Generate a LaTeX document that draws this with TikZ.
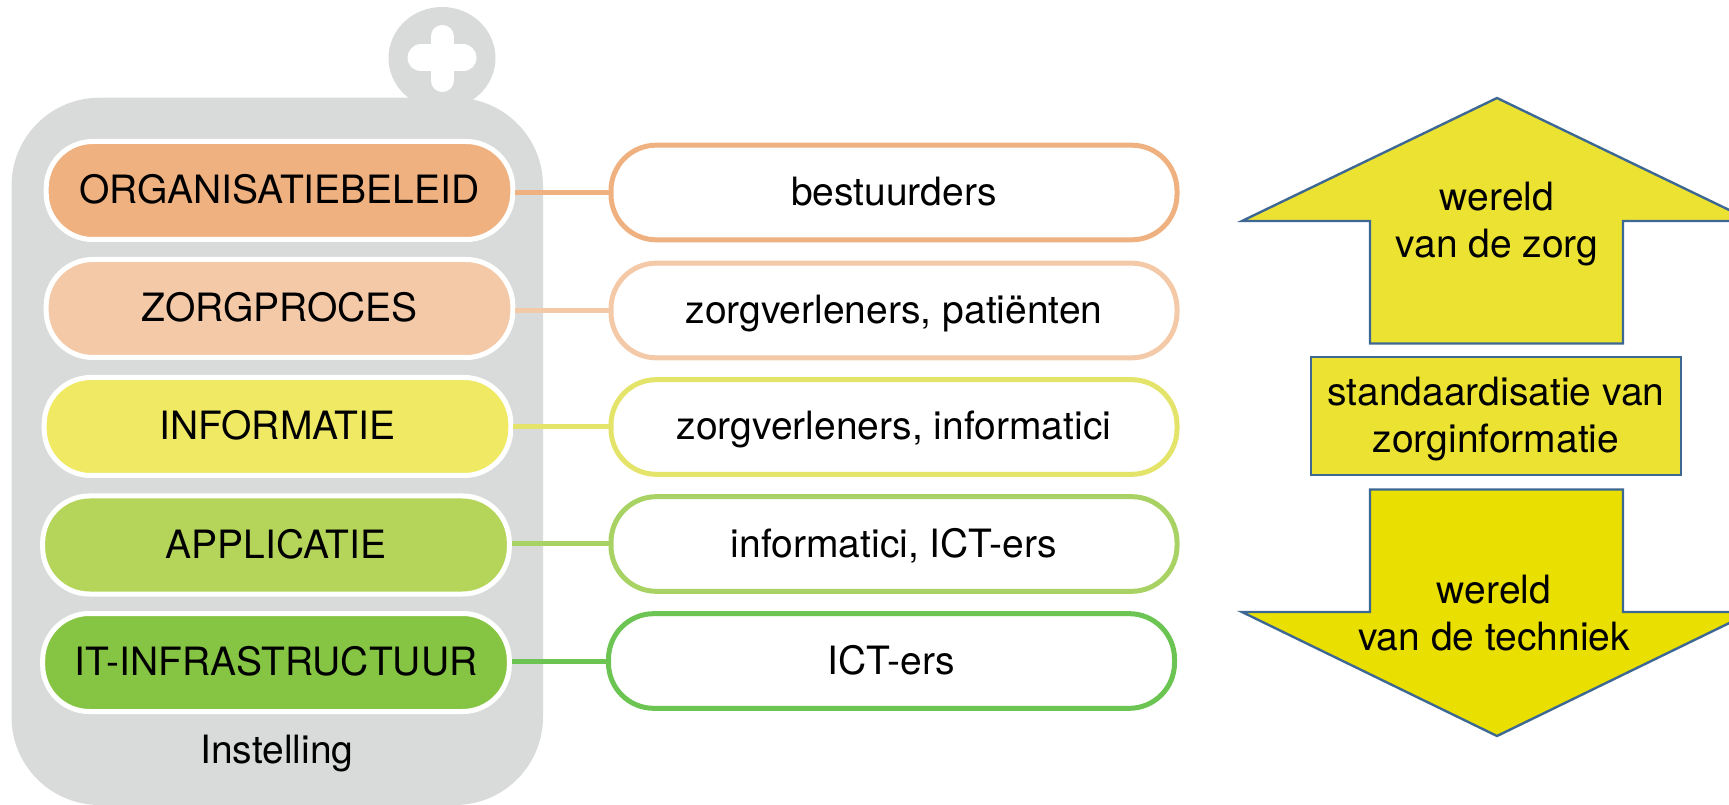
\documentclass[tikz,border=0pt]{standalone}
\usepackage{fontspec}
\setmainfont{TeX Gyre Heros}
\definecolor{panelgrey}{RGB}{217,219,218}
\definecolor{orgcolor}{RGB}{239,177,128}
\definecolor{zorgcolor}{RGB}{244,201,168}
\definecolor{infocolor}{RGB}{240,233,100}
\definecolor{appcolor}{RGB}{180,213,90}
\definecolor{itcolor}{RGB}{134,197,67}
\definecolor{infoline}{RGB}{229,228,106}
\definecolor{appline}{RGB}{168,210,100}
\definecolor{itline}{RGB}{108,197,83}
\definecolor{worldtop}{RGB}{235,226,50}
\definecolor{worldbottom}{RGB}{233,223,0}
\definecolor{arrowedge}{RGB}{62,104,148}
\tikzset{
    layerbox/.style={draw=white,line width=3.75pt,fill=#1,rounded corners=35pt,minimum width=350pt,minimum height=73.5pt,
        font=\fontsize{29.25}{35.25}\selectfont,text height=20pt,text depth=0.5pt,inner sep=0pt},
    rolebox/.style={draw=#1,line width=3.75pt,fill=white,rounded corners=34pt,minimum width=424.5pt,minimum height=71pt,
        font=\fontsize{29.25}{35.25}\selectfont,text height=20pt,text depth=0.5pt,inner sep=0pt},
    rolelink/.style={draw=#1,line width=3.75pt},
    worldshape/.style={draw=arrowedge,line width=1.8pt,fill=#1,line join=miter},
    worldtext/.style={font=\fontsize{29.25}{35.25}\selectfont,align=center,inner sep=0pt},
}
\begin{document}
\begin{tikzpicture}[x=0.75pt,y=0.75pt,yscale=-1,xscale=1]
    \path [use as bounding box,clip] (0,0) rectangle (1729,805);

    %Shape: Knob
    \fill [panelgrey] (442,58) ellipse (53.5 and 51);
    \draw [white,line width=17.25pt,line cap=round] (442,36.5) -- (442,80.5);
    \draw [white,line width=20.25pt,line cap=round] (421,58) -- (463,58);
    %Shape: Panel
    \fill [panelgrey,rounded corners=66pt] (11.5,97.7) rectangle (543,805);

    % Layer Nodes
    \node [layerbox=orgcolor] (orgbox) at (279.5,190.5) {ORGANISATIEBELEID};
    \node [layerbox=zorgcolor] (zorgbox) at (279.5,308.5) {ZORGPROCES};
    \node [layerbox=infocolor] (infobox) at (277.5,426.5) {INFORMATIE};
    \node [layerbox=appcolor] (appbox) at (276,545) {APPLICATIE};
    \node [layerbox=itcolor] (itbox) at (276,662.5) {IT-INFRASTRUCTUUR};
    % Text Node
    \node [font=\fontsize{29.25}{35.25}\selectfont,inner sep=0pt,anchor=base] (instelling) at (277,763) {Instelling};

    % Role Nodes
    \node [rolebox=orgcolor] (bestuurbox) at (894,192.5) {bestuurders};
    \node [rolebox=zorgcolor] (patientbox) at (894,310.5) {zorgverleners, patiënten};
    \node [rolebox=infoline] (verleenbox) at (894,427) {zorgverleners, informatici};
    \node [rolebox=appline] (informbox) at (894,544) {informatici, ICT-ers};
    \node [rolebox=itline] (ictbox) at (891.5,661) {ICT-ers};

    %Straight Lines
    \draw [rolelink=orgcolor] (orgbox.east |- bestuurbox.west) -- (bestuurbox.west);
    \draw [rolelink=zorgcolor] (zorgbox.east |- patientbox.west) -- (patientbox.west);
    \draw [rolelink=infoline] (infobox.east |- verleenbox.west) -- (verleenbox.west);
    \draw [rolelink=appline] (appbox.east |- informbox.west) -- (informbox.west);
    \draw [rolelink=itline] (itbox.east |- ictbox.west) -- (ictbox.west);

    %Shape: Polygon
    \draw [worldshape=worldtop] (1497,98) -- (1752,221) -- (1623,221) -- (1623,343.5) -- (1370,343.5) -- (1370,221) -- (1242,221) -- cycle;
    %Shape: Rectangle
    \draw [worldshape=worldtop] (1311,357) rectangle (1681,475);
    %Shape: Polygon
    \draw [worldshape=worldbottom] (1497,736) -- (1752,612) -- (1623,612) -- (1623,489.5) -- (1370,489.5) -- (1370,612) -- (1242,612) -- cycle;

    % Text Node
    \node [worldtext] (zorgworld) at (1497,224) {wereld\\van de zorg};
    % Text Node
    \node [worldtext] (standaard) at (1496,419.5) {standaardisatie van\\zorginformatie};
    % Text Node
    \node [worldtext] (techworld) at (1494,613) {wereld\\van de techniek};
\end{tikzpicture}
\end{document}
